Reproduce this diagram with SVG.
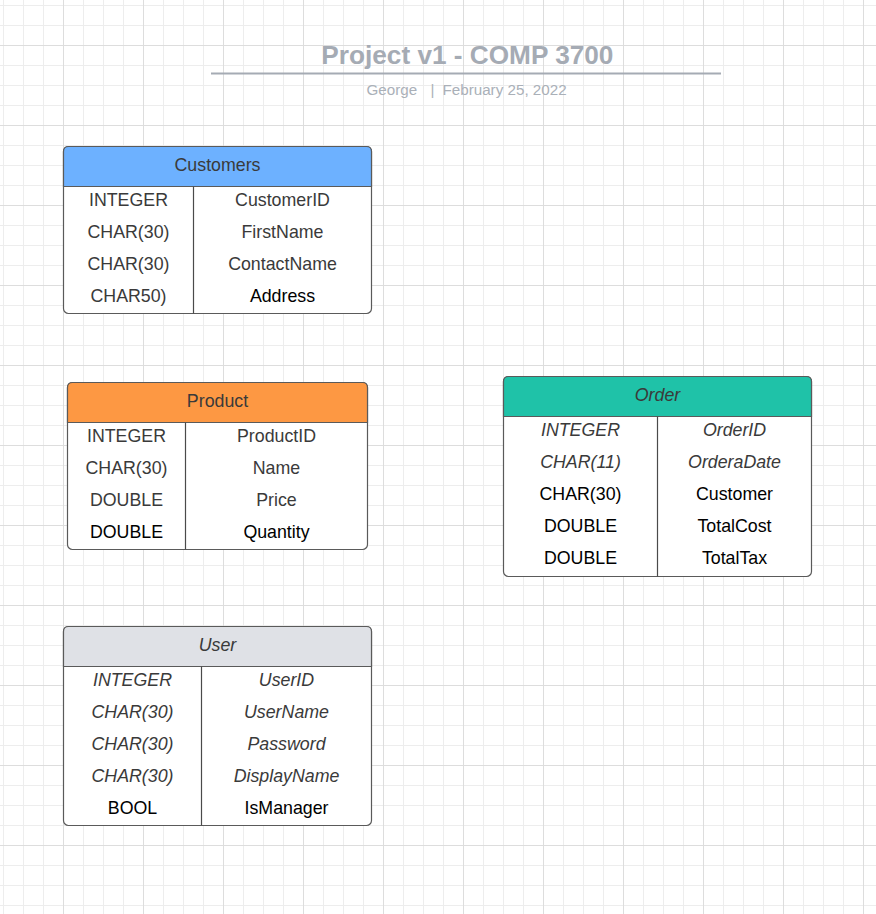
<svg xmlns="http://www.w3.org/2000/svg" width="876" height="914" viewBox="0 0 876 914">
<defs>
<pattern id="grid" x="63" y="45" width="80" height="80" patternUnits="userSpaceOnUse">
<rect x="0" y="20" width="80" height="1" fill="#ededed"/>
<rect x="0" y="40" width="80" height="1" fill="#ededed"/>
<rect x="0" y="60" width="80" height="1" fill="#ededed"/>
<rect x="20" y="0" width="1" height="80" fill="#ededed"/>
<rect x="40" y="0" width="1" height="80" fill="#ededed"/>
<rect x="60" y="0" width="1" height="80" fill="#ededed"/>
<rect x="0" y="0" width="80" height="1" fill="#dddddd"/>
<rect x="0" y="0" width="1" height="80" fill="#dddddd"/>
</pattern>
<style>
.box{fill:#ffffff;stroke:#5a5a5a;stroke-width:1.2}
.hd{stroke:#5a5a5a;stroke-width:1.2}
.ln{stroke:#4a4a4a;stroke-width:1.2;fill:none}
text{font-family:"Liberation Sans",Arial,sans-serif;font-size:17.8px;text-anchor:middle;fill:#3a3a3a}
.k{fill:#000000}
.i{font-style:italic}
.title{font-size:26.2px;font-weight:bold;fill:#a5abb4}
.sub{font-size:15.2px;fill:#aab0b8;text-anchor:start}
</style>
</defs>
<rect x="0" y="0" width="876" height="914" fill="#ffffff"/>
<rect x="0" y="0" width="876" height="914" fill="url(#grid)"/>

<g id="title">
<text class="title" x="467.4" y="64">Project v1 - COMP 3700</text>
<line x1="211" y1="73.5" x2="721" y2="73.5" stroke="#a5abb4" stroke-width="2"/>
<text class="sub" x="366.5" y="95">George</text>
<text class="sub" x="430.5" y="95">|</text>
<text class="sub" x="442.5" y="95">February 25, 2022</text>
</g>

<g id="customers">
<rect class="box" x="63.5" y="146.5" width="308" height="167" rx="5"/>
<path class="hd" fill="#6db1ff" d="M63.5,186.5 V151.5 Q63.5,146.5 68.5,146.5 H366.5 Q371.5,146.5 371.5,151.5 V186.5 Z"/>
<line class="ln" x1="193.5" y1="186.5" x2="193.5" y2="313.5"/>
<text x="217.5" y="170.5">Customers</text>
<text x="128.5" y="206">INTEGER</text><text x="282.5" y="206">CustomerID</text>
<text x="128.5" y="238">CHAR(30)</text><text x="282.5" y="238">FirstName</text>
<text x="128.5" y="270">CHAR(30)</text><text x="282.5" y="270">ContactName</text>
<text x="128.5" y="302">CHAR50)</text><text class="k" x="282.5" y="302">Address</text>
</g>

<g id="product">
<rect class="box" x="67.5" y="382.5" width="300" height="167" rx="5"/>
<path class="hd" fill="#fd9843" d="M67.5,422.5 V387.5 Q67.5,382.5 72.5,382.5 H362.5 Q367.5,382.5 367.5,387.5 V422.5 Z"/>
<line class="ln" x1="185.5" y1="422.5" x2="185.5" y2="549.5"/>
<text x="217.5" y="406.5">Product</text>
<text x="126.5" y="442">INTEGER</text><text x="276.5" y="442">ProductID</text>
<text x="126.5" y="474">CHAR(30)</text><text x="276.5" y="474">Name</text>
<text x="126.5" y="506">DOUBLE</text><text x="276.5" y="506">Price</text>
<text class="k" x="126.5" y="538">DOUBLE</text><text class="k" x="276.5" y="538">Quantity</text>
</g>

<g id="order">
<rect class="box" x="503.5" y="376.5" width="308" height="200" rx="5"/>
<path class="hd" fill="#1fc2a8" d="M503.5,416.5 V381.5 Q503.5,376.5 508.5,376.5 H806.5 Q811.5,376.5 811.5,381.5 V416.5 Z"/>
<line class="ln" x1="657.5" y1="416.5" x2="657.5" y2="576.5"/>
<text class="i" x="657.5" y="400.5">Order</text>
<text class="i" x="580.5" y="436">INTEGER</text><text class="i" x="734.5" y="436">OrderID</text>
<text class="i" x="580.5" y="468">CHAR(11)</text><text class="i" x="734.5" y="468">OrderaDate</text>
<text class="k" x="580.5" y="500">CHAR(30)</text><text class="k" x="734.5" y="500">Customer</text>
<text class="k" x="580.5" y="532">DOUBLE</text><text class="k" x="734.5" y="532">TotalCost</text>
<text class="k" x="580.5" y="564">DOUBLE</text><text class="k" x="734.5" y="564">TotalTax</text>
</g>

<g id="user">
<rect class="box" x="63.5" y="626.5" width="308" height="199" rx="5"/>
<path class="hd" fill="#dfe1e6" d="M63.5,666.5 V631.5 Q63.5,626.5 68.5,626.5 H366.5 Q371.5,626.5 371.5,631.5 V666.5 Z"/>
<line class="ln" x1="201.5" y1="666.5" x2="201.5" y2="825.5"/>
<text class="i" x="217.5" y="650.5">User</text>
<text class="i" x="132.5" y="686">INTEGER</text><text class="i" x="286.5" y="686">UserID</text>
<text class="i" x="132.5" y="718">CHAR(30)</text><text class="i" x="286.5" y="718">UserName</text>
<text class="i" x="132.5" y="750">CHAR(30)</text><text class="i" x="286.5" y="750">Password</text>
<text class="i" x="132.5" y="782">CHAR(30)</text><text class="i" x="286.5" y="782">DisplayName</text>
<text class="k" x="132.5" y="814">BOOL</text><text class="k" x="286.5" y="814">IsManager</text>
</g>

<g id="connectors"></g>
</svg>
